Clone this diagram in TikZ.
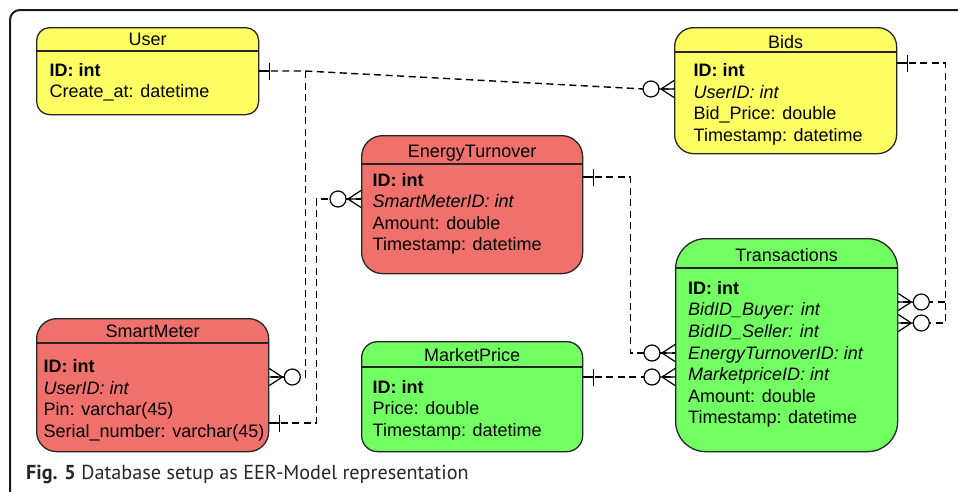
\documentclass[tikz,border=0pt]{standalone}
\usepackage{fontspec}
\setmainfont{Liberation Sans}
\newfontfamily\capfont{PT Sans}
\usetikzlibrary{calc}
\definecolor{ylw}{RGB}{255,255,100}
\definecolor{rd}{RGB}{240,113,107}
\definecolor{grn}{RGB}{114,255,98}
\tikzset{
  ent/.style={draw=black!85, line width=1.3pt, rectangle, inner sep=0pt, anchor=north west},
  hdr/.style={draw=black!85, line width=1.2pt},
  conn/.style={draw=black, line width=1.4pt, dash pattern=on 7pt off 4.5pt},
  lbl/.style={inner sep=0pt, anchor=base west, font=\fontsize{18}{21.6}\selectfont},
  ttl/.style={inner sep=0pt, anchor=base, font=\fontsize{18}{21.6}\selectfont},
  onebar/.pic={\draw[line width=1.3pt] (0,0) -- (10,0) (10,-8.5) -- (10,8.5);},
  crow/.pic={\draw[line width=1.2pt] (0,-8.5) -- (13,0) -- (0,8.5) (0,0) -- (15,0);
             \draw[line width=1.2pt, fill=white] (23,0) circle (8pt);}
}
\begin{document}
\begin{tikzpicture}[x=1pt,y=-1pt]
\useasboundingbox (0,0) rectangle (958,491);
\begin{scope}
  \clip (0,0) rectangle (958,491);
  \draw[line width=2pt, draw=black!90, rounded corners=10pt] (10,10) rectangle (990,520);
\end{scope}

% entities
\node[ent, fill=ylw, minimum width=222pt, minimum height=87pt, rounded corners=13pt] (user) at (36,27) {};
\node[ent, fill=ylw, minimum width=222pt, minimum height=126pt, rounded corners=19pt] (bids) at (674,27) {};
\node[ent, fill=rd, minimum width=221pt, minimum height=138pt, rounded corners=21pt] (et) at (361,135) {};
\node[ent, fill=rd, minimum width=232pt, minimum height=133pt, rounded corners=20pt] (sm) at (36,318) {};
\node[ent, fill=grn, minimum width=221pt, minimum height=110pt, rounded corners=16pt] (mp) at (361,341) {};
\node[ent, fill=grn, minimum width=222pt, minimum height=213pt, rounded corners=30pt] (tr) at (675,238) {};

% header lines
\draw[hdr] ($(user.north west)+(0,24)$) -- ($(user.north east)+(0,24)$);
\draw[hdr] ($(bids.north west)+(0,25)$) -- ($(bids.north east)+(0,25)$);
\draw[hdr] ($(et.north west)+(0,29)$) -- ($(et.north east)+(0,29)$);
\draw[hdr] ($(sm.north west)+(0,25)$) -- ($(sm.north east)+(0,25)$);
\draw[hdr] ($(mp.north west)+(0,26)$) -- ($(mp.north east)+(0,26)$);
\draw[hdr] ($(tr.north west)+(0,30)$) -- ($(tr.north east)+(0,30)$);

% titles
\node[ttl] (user-t) at ($(user.north)+(0,18.7)$) {User};
\node[ttl] (bids-t) at ($(bids.north)+(0,21.5)$) {Bids};
\node[ttl] (et-t) at ($(et.north)+(0,22.3)$) {EnergyTurnover};
\node[ttl] (sm-t) at ($(sm.north)+(0,19.3)$) {SmartMeter};
\node[ttl] (mp-t) at ($(mp.north)+(0,20.7)$) {MarketPrice};
\node[ttl] (tr-t) at ($(tr.north)+(0,23.7)$) {Transactions};

% attributes
\foreach [count=\i] \t in {{\textbf{ID: int}}, {Create\_at: datetime}}
  \node[lbl] (user-\i) at (49.5,{76.2+(\i-1)*21.6}) {\t};
\foreach [count=\i] \t in {{\textbf{ID: int}}, {\textit{UserID: int}}, {Bid\_Price: double}, {Timestamp: datetime}}
  \node[lbl] (bids-\i) at (693.5,{76.6+(\i-1)*21.6}) {\t};
\foreach [count=\i] \t in {{\textbf{ID: int}}, {\textit{SmartMeterID: int}}, {Amount: double}, {Timestamp: datetime}}
  \node[lbl] (et-\i) at (372.5,{186+(\i-1)*21.6}) {\t};
\foreach [count=\i] \t in {{\textbf{ID: int}}, {\textit{UserID: int}}, {Pin: varchar(45)}, {Serial\_number: varchar(45)}}
  \node[lbl] (sm-\i) at (43.5,{372.4+(\i-1)*21.6}) {\t};
\foreach [count=\i] \t in {{\textbf{ID: int}}, {Price: double}, {Timestamp: datetime}}
  \node[lbl] (mp-\i) at (372.5,{393.2+(\i-1)*21.6}) {\t};
\foreach [count=\i] \t in {{\textbf{ID: int}}, {\textit{BidID\_Buyer: int}}, {\textit{BidID\_Seller: int}}, {\textit{EnergyTurnoverID: int}}, {\textit{MarketpriceID: int}}, {Amount: double}, {Timestamp: datetime}}
  \node[lbl] (tr-\i) at (688,{294.3+(\i-1)*21.6}) {\t};

% connector end points
\coordinate (u1) at ($(user.north east)+(0,44)$);
\coordinate (j1) at ($(u1)+(46,0)$);
\coordinate (b1) at ($(bids.north west)+(0,62)$);
\coordinate (b1a) at ($(b1)+(-30,0)$);
\coordinate (s1) at ($(sm.north east)+(0,59)$);
\coordinate (s2) at ($(sm.north east)+(0,105)$);
\coordinate (e1) at ($(et.north west)+(0,64)$);
\coordinate (e2) at ($(et.north east)+(0,42)$);
\coordinate (m1) at ($(mp.north east)+(0,36)$);
\coordinate (t1) at ($(tr.north west)+(0,115)$);
\coordinate (t2) at ($(tr.north west)+(0,139)$);
\coordinate (b2) at ($(bids.north east)+(0,36)$);
\coordinate (t3) at ($(tr.north east)+(0,64)$);
\coordinate (t4) at ($(tr.north east)+(0,85)$);

% connectors
\draw[conn] (u1) -- (j1) -- (b1a) -- (b1);
\draw[conn] (j1) -- (j1 |- s1) -- (s1);
\draw[conn] (s2) -- ++(47,0) |- (e1);
\draw[conn] (e2) -- ++(47,0) |- (t1);
\draw[conn] (m1) -- (t2);
\draw[conn] (b2) -- ++(48,0) |- (t3);
\draw[conn] (b2) -- ++(48,0) |- (t4);

% markers
\pic at (u1) {onebar};
\pic[xscale=-1] at (b1) {crow};
\pic at (s1) {crow};
\pic at (s2) {onebar};
\pic[xscale=-1] at (e1) {crow};
\pic at (e2) {onebar};
\pic[xscale=-1] at (t1) {crow};
\pic at (m1) {onebar};
\pic[xscale=-1] at (t2) {crow};
\pic at (b2) {onebar};
\pic at (t3) {crow};
\pic at (t4) {crow};

% caption
\node[anchor=base west, inner sep=0pt, text=black!85, font=\capfont\fontsize{20.2}{22}\selectfont] (cap) at (26,479) {\textbf{Fig. 5} Database setup as EER-Model representation};
\end{tikzpicture}
\end{document}
